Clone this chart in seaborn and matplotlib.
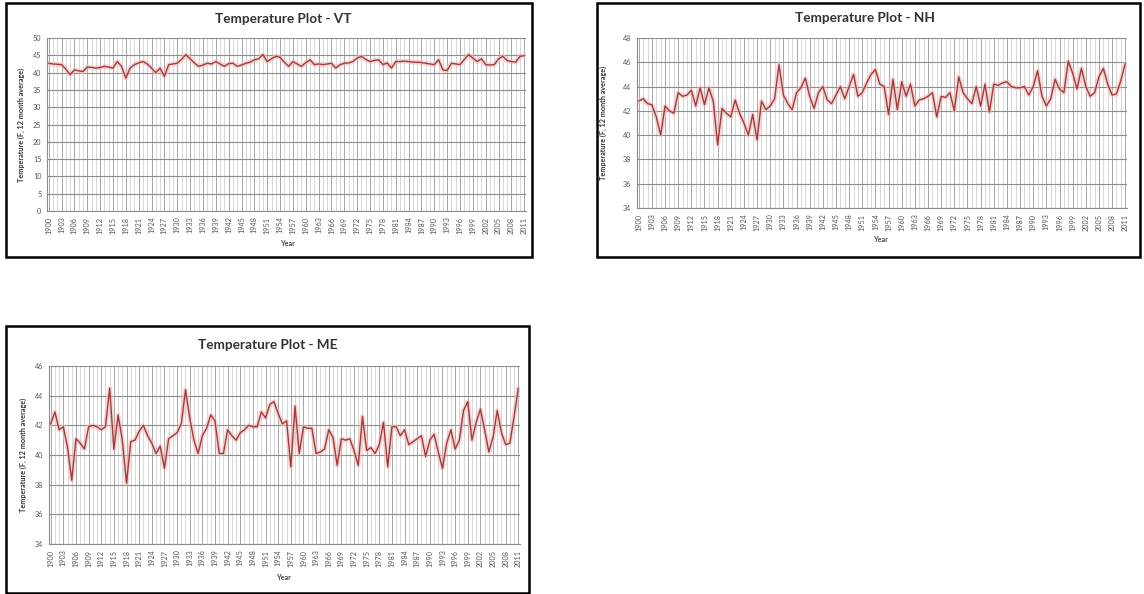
import matplotlib.pyplot as plt
import matplotlib.patches as patches
import pandas as pd
import seaborn as sns

years = list(range(1900, 2012))

vt_temp = [
    42.7, 42.5, 42.4, 42.3, 41.0, 39.4, 40.8, 40.5, 40.3, 41.6,
    41.5, 41.3, 41.5, 41.8, 41.6, 41.3, 43.2, 41.8, 38.4, 41.3,
    42.3, 42.8, 43.2, 42.5, 41.3, 40.0, 41.3, 38.9, 42.3, 42.5,
    42.7, 43.8, 45.2, 44.0, 42.8, 41.8, 42.2, 42.7, 42.5, 43.2,
    42.5, 41.8, 42.6, 42.7, 41.8, 42.2, 42.7, 43.0, 43.7, 44.0,
    45.2, 43.2, 44.0, 44.7, 44.4, 43.0, 41.8, 43.2, 42.5, 41.8,
    42.9, 43.7, 42.3, 42.5, 42.3, 42.5, 42.7, 41.3, 42.3, 42.7,
    42.8, 43.2, 44.2, 44.7, 43.8, 43.2, 43.5, 43.7, 42.3, 42.8,
    41.3, 43.2, 43.2, 43.3, 43.2, 43.0, 43.0, 42.9, 42.7, 42.5,
    42.3, 43.7, 40.8, 40.6, 42.7, 42.5, 42.3, 43.8, 45.2, 44.2,
    43.2, 44.0, 42.3, 42.2, 42.3, 44.0, 44.7, 43.5, 43.2, 43.0,
    44.7, 44.9,
]

nh_temp = [
    42.8, 43.0, 42.6, 42.5, 41.5, 40.0, 42.4, 42.0, 41.8, 43.5,
    43.2, 43.3, 43.7, 42.4, 43.9, 42.5, 43.9, 42.8, 39.2, 42.2,
    41.8, 41.5, 42.9, 41.8, 41.0, 40.0, 41.7, 39.6, 42.8, 42.1,
    42.4, 43.0, 45.8, 43.3, 42.6, 42.1, 43.5, 43.9, 44.7, 43.2,
    42.2, 43.5, 44.0, 42.9, 42.6, 43.3, 44.0, 43.0, 44.0, 45.0,
    43.2, 43.5, 44.3, 45.0, 45.4, 44.2, 44.0, 41.7, 44.6, 42.1,
    44.4, 43.2, 44.2, 42.4, 42.9, 43.0, 43.2, 43.5, 41.5, 43.2,
    43.1, 43.5, 42.0, 44.8, 43.5, 43.0, 42.6, 44.0, 42.4, 44.2,
    41.9, 44.2, 44.1, 44.3, 44.4, 44.0, 43.9, 43.9, 44.0, 43.3,
    44.0, 45.3, 43.2, 42.4, 43.0, 44.6, 43.8, 43.5, 46.1, 45.1,
    43.8, 45.5, 44.0, 43.2, 43.5, 44.8, 45.5, 44.2, 43.3, 43.4,
    44.5, 45.9,
]

me_temp = [
    42.1, 42.9, 41.7, 41.9, 40.5, 38.3, 41.1, 40.8, 40.4, 41.9,
    42.0, 41.9, 41.7, 41.9, 44.5, 40.4, 42.7, 41.0, 38.1, 40.9,
    41.0, 41.6, 42.0, 41.3, 40.8, 40.1, 40.6, 39.1, 41.1, 41.3,
    41.5, 42.1, 44.4, 42.5, 41.0, 40.1, 41.3, 41.8, 42.7, 42.3,
    40.1, 40.1, 41.7, 41.3, 41.0, 41.5, 41.7, 42.0, 41.9, 41.9,
    42.9, 42.5, 43.4, 43.6, 42.8, 42.1, 42.3, 39.2, 43.3, 40.1,
    41.9, 41.8, 41.8, 40.1, 40.2, 40.4, 41.7, 41.2, 39.3, 41.1,
    41.0, 41.1, 40.3, 39.3, 42.6, 40.3, 40.5, 40.1, 40.7, 42.2,
    39.2, 41.9, 41.9, 41.3, 41.7, 40.7, 40.9, 41.1, 41.3, 39.9,
    41.0, 41.4, 40.2, 39.1, 40.8, 41.7, 40.4, 41.0, 43.0, 43.6,
    41.0, 42.2, 43.1, 41.7, 40.2, 41.2, 43.0, 41.5, 40.7, 40.8,
    42.6, 44.5,
]

year_ticks = list(range(1900, 2012, 3))
vt_yticks = list(range(0, 51, 5))
nh_yticks = list(range(34, 49, 2))
me_yticks = list(range(34, 47, 2))

W, H = 1144, 594

sns.set_style("white")
plt.rcParams["font.family"] = ["Lato", "DejaVu Sans"]

fig = plt.figure(figsize=(W / 100, H / 100), dpi=100)


def px_box(x0, y0, x1, y1):
    return [x0 / W, 1 - y1 / H, (x1 - x0) / W, (y1 - y0) / H]


def draw_panel(state, temps, yticks, plot_box, frame_box, title_xy, ylab_x, year_xy):
    fx0, fy0, fx1, fy1 = frame_box
    fig.patches.append(patches.Rectangle(
        (fx0 / W, 1 - fy1 / H), (fx1 - fx0) / W, (fy1 - fy0) / H,
        transform=fig.transFigure, fill=False, edgecolor="black", linewidth=1.8))

    ax = fig.add_axes(px_box(*plot_box))
    df = pd.DataFrame({"Year": years, "Temp": temps})
    # soft halo under the line, like the blurred original
    sns.lineplot(x="Year", y="Temp", data=df, ax=ax, color="#f4bcbc", linewidth=3.4, alpha=0.6)
    sns.lineplot(x="Year", y="Temp", data=df, ax=ax, color="#a33a3a", linewidth=1.0)

    ax.set_xlim(1899.6, 2011.4)
    ax.set_ylim(yticks[0], yticks[-1])
    ax.set_xticks(year_ticks)
    ax.set_xticklabels([str(y) for y in year_ticks], rotation=90, fontsize=5.2, color="#555555")
    ax.set_xticks(years, minor=True)
    ax.set_yticks(yticks)
    ax.set_yticklabels([str(v) for v in yticks], fontsize=5.2, color="#555555")
    ax.tick_params(axis="both", which="both", length=0, pad=4)

    ax.grid(True, which="minor", axis="x", color="#c8c8c8", linewidth=0.5)
    ax.grid(True, which="major", axis="x", color="#999999", linewidth=0.6)
    ax.grid(True, which="major", axis="y", color="#8c8c8c", linewidth=0.8)
    ax.set_axisbelow(True)
    for side in ["top", "right"]:
        ax.spines[side].set_visible(False)
    for side in ["left", "bottom"]:
        ax.spines[side].set_color("#8c8c8c")
        ax.spines[side].set_linewidth(0.8)
    ax.set_xlabel("")
    ax.set_ylabel("")

    fig.text(title_xy[0] / W, 1 - title_xy[1] / H, "Temperature Plot - " + state,
             ha="center", va="center", fontsize=9.8, fontweight="bold", color="#333333")
    py0, py1 = plot_box[1], plot_box[3]
    fig.text(ylab_x / W, 1 - (py0 + py1) / 2 / H, "Temperature (F, 12 month average)",
             rotation=90, ha="center", va="center", fontsize=5.2, fontweight="bold", color="#333333")
    fig.text(year_xy[0] / W, 1 - year_xy[1] / H, "Year",
             ha="center", va="center", fontsize=5.2, fontweight="bold", color="#444444")


draw_panel("VT", vt_temp, vt_yticks, (47, 38, 526, 211), (6, 3, 532, 257),
           (283, 19), 21, (287, 243))
draw_panel("NH", nh_temp, nh_yticks, (637, 38, 1127, 208), (597, 3, 1140, 257),
           (865, 18), 603, (880, 240))
draw_panel("ME", me_temp, me_yticks, (49, 366, 520, 544), (6, 326, 529, 593),
           (268, 345), 23, (283, 578))

fig.savefig("out.png", dpi=100)
